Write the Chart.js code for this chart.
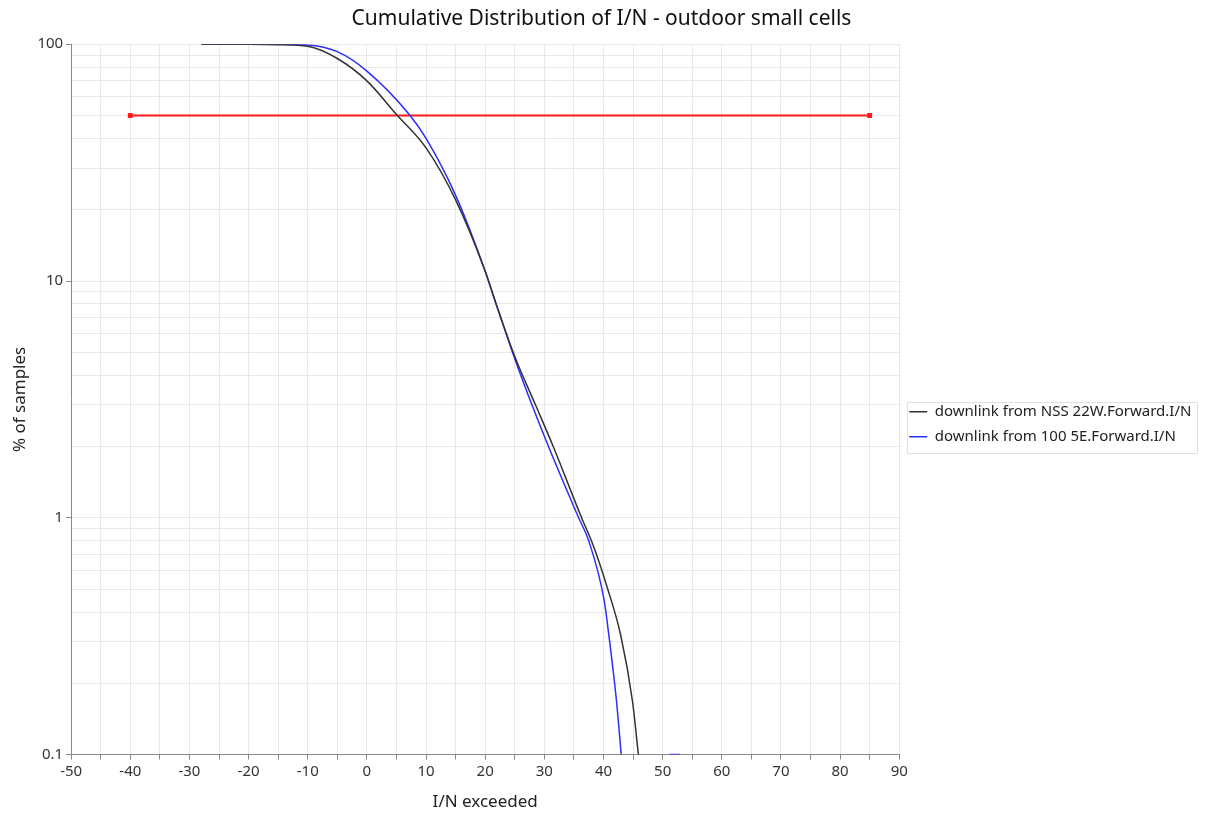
<!DOCTYPE html>
<html>
<head>
  <title>Cumulative Distribution of I/N</title>
  <meta name="viewport" content="width=device-width, initial-scale=1">
  <style>
    html, body { margin: 0; padding: 0; background: #fff; }
    #wrap { width: 1210px; height: 817px; }
  </style>
</head>
<body>
  <div id="wrap"><canvas id="myChart"></canvas></div>
  <script src="https://cdn.jsdelivr.net/npm/chart.js"></script>
  <script>
    // values
    var nssX = [-28, -20, -15, -10, -5, 0, 5, 10, 15, 20, 21.7, 25, 28.5, 31.5, 36.3, 38.3, 40.5, 42.9, 44.9, 45.9];
    var nssY = [100, 99.9, 99.5, 98, 87, 70, 50.5, 36.5, 22, 11, 8.2, 4.8, 3, 2, 1, 0.76, 0.52, 0.32, 0.168, 0.1];
    var e5X = [-28, -15, -10, -5, 0, 7.3, 10, 15, 20, 21.7, 25, 27.9, 30.7, 35.8, 37.5, 40.1, 40.9, 42.2, 43, 47, 51.2, 52.9];
    var e5Y = [100, 99.9, 99.3, 93, 77, 50, 40, 23, 11, 8.2, 4.7, 3, 2, 1, 0.8, 0.45, 0.32, 0.168, 0.1, null, 0.1, 0.1];
    var refX = [-40, 85];
    var refY = [50, 50];
    var yLabels = [0.1, 1, 10, 100];
    var seriesNames = ['downlink from NSS 22W.Forward.I/N', 'downlink from 100 5E.Forward.I/N'];

    function pts(xs, ys) {
      return xs.map(function (x, i) { return { x: x, y: ys[i] }; });
    }

    var legendBox = {
      id: 'legendBox',
      afterDraw: function (chart) {
        var boxes = chart.legend.legendHitBoxes;
        if (!boxes || !boxes.length) return;
        var l = Infinity, t = Infinity, r = -Infinity, b = -Infinity;
        boxes.forEach(function (h) {
          l = Math.min(l, h.left); t = Math.min(t, h.top);
          r = Math.max(r, h.left + h.width); b = Math.max(b, h.top + h.height);
        });
        var c = chart.ctx;
        c.save();
        c.strokeStyle = '#e0e0e0';
        c.lineWidth = 1;
        c.strokeRect(Math.round(l - 2) + 0.5, Math.round(t - 2) + 0.5, Math.round(r - l + 8), Math.round(b - t + 11));
        c.restore();
      }
    };

    var ctx = document.getElementById('myChart');
    var chart = new Chart(ctx, {
      type: 'scatter',
      data: {
        datasets: [{
          label: seriesNames[0],
          data: pts(nssX, nssY),
          showLine: true,
          borderColor: '#333333',
          backgroundColor: '#333333',
          borderWidth: 1.5,
          pointRadius: 0,
          cubicInterpolationMode: 'monotone'
        }, {
          label: seriesNames[1],
          data: pts(e5X, e5Y),
          showLine: true,
          borderColor: 'rgb(45,45,255)',
          backgroundColor: 'rgb(45,45,255)',
          borderWidth: 1.5,
          pointRadius: 0,
          cubicInterpolationMode: 'monotone'
        }, {
          label: 'ref',
          data: pts(refX, refY),
          showLine: true,
          borderColor: '#ff1a1a',
          backgroundColor: '#ff1a1a',
          borderWidth: 2,
          pointRadius: 2,
          pointStyle: 'rect'
        }]
      },
      options: {
        responsive: true,
        maintainAspectRatio: false,
        animation: false,
        layout: { padding: { left: 6, right: 13, top: 0, bottom: 1 } },
        plugins: {
          title: {
            display: true,
            text: 'Cumulative Distribution of I/N - outdoor small cells',
            font: { family: 'Noto Sans', size: 21, weight: 'normal' },
            color: '#111',
            padding: { top: 6, bottom: 13 }
          },
          legend: {
            position: 'right',
            title: { display: true, text: ' ', padding: { top: 18, bottom: 0 }, font: { size: 12 } },
            labels: {
              filter: function (item) { return item.datasetIndex < 2; },
              usePointStyle: true,
              pointStyle: 'line',
              pointStyleWidth: 18,
              boxHeight: 8,
              padding: 10,
              color: '#222',
              font: { family: 'Noto Sans', size: 15 }
            }
          },
          tooltip: { enabled: false }
        },
        scales: {
          x: {
            type: 'linear',
            min: -50,
            max: 90,
            ticks: {
              stepSize: 5,
              autoSkip: false,
              maxRotation: 0,
              color: '#333',
              font: { family: 'Noto Sans', size: 15 },
              callback: function (v) { return v % 10 === 0 ? v : ''; }
            },
            grid: { color: '#e8e8e8', tickColor: '#888', tickLength: 5 },
            border: { color: '#888' },
            title: {
              display: true,
              text: 'I/N exceeded',
              color: '#222',
              font: { family: 'Noto Sans', size: 17 },
              padding: { top: 8 }
            }
          },
          y: {
            type: 'logarithmic',
            min: 0.1,
            max: 100,
            afterBuildTicks: function (axis) {
              var t = [];
              for (var e = -1; e <= 1; e++) {
                for (var m = 1; m <= 9; m++) t.push({ value: +(m * Math.pow(10, e)).toPrecision(3) });
              }
              t.push({ value: 100 });
              axis.ticks = t;
            },
            ticks: {
              autoSkip: false,
              color: '#333',
              font: { family: 'Noto Sans', size: 15 },
              callback: function (v) { return yLabels.indexOf(v) >= 0 ? String(v) : ''; }
            },
            grid: {
              color: '#e8e8e8',
              tickLength: 5,
              tickColor: function (c) { return yLabels.indexOf(c.tick && c.tick.value) >= 0 ? '#888' : 'rgba(0,0,0,0)'; }
            },
            border: { color: '#888' },
            title: {
              display: true,
              text: '% of samples',
              color: '#222',
              font: { family: 'Noto Sans', size: 17 }
            }
          }
        }
      },
      plugins: [legendBox]
    });
  </script>
</body>
</html>
